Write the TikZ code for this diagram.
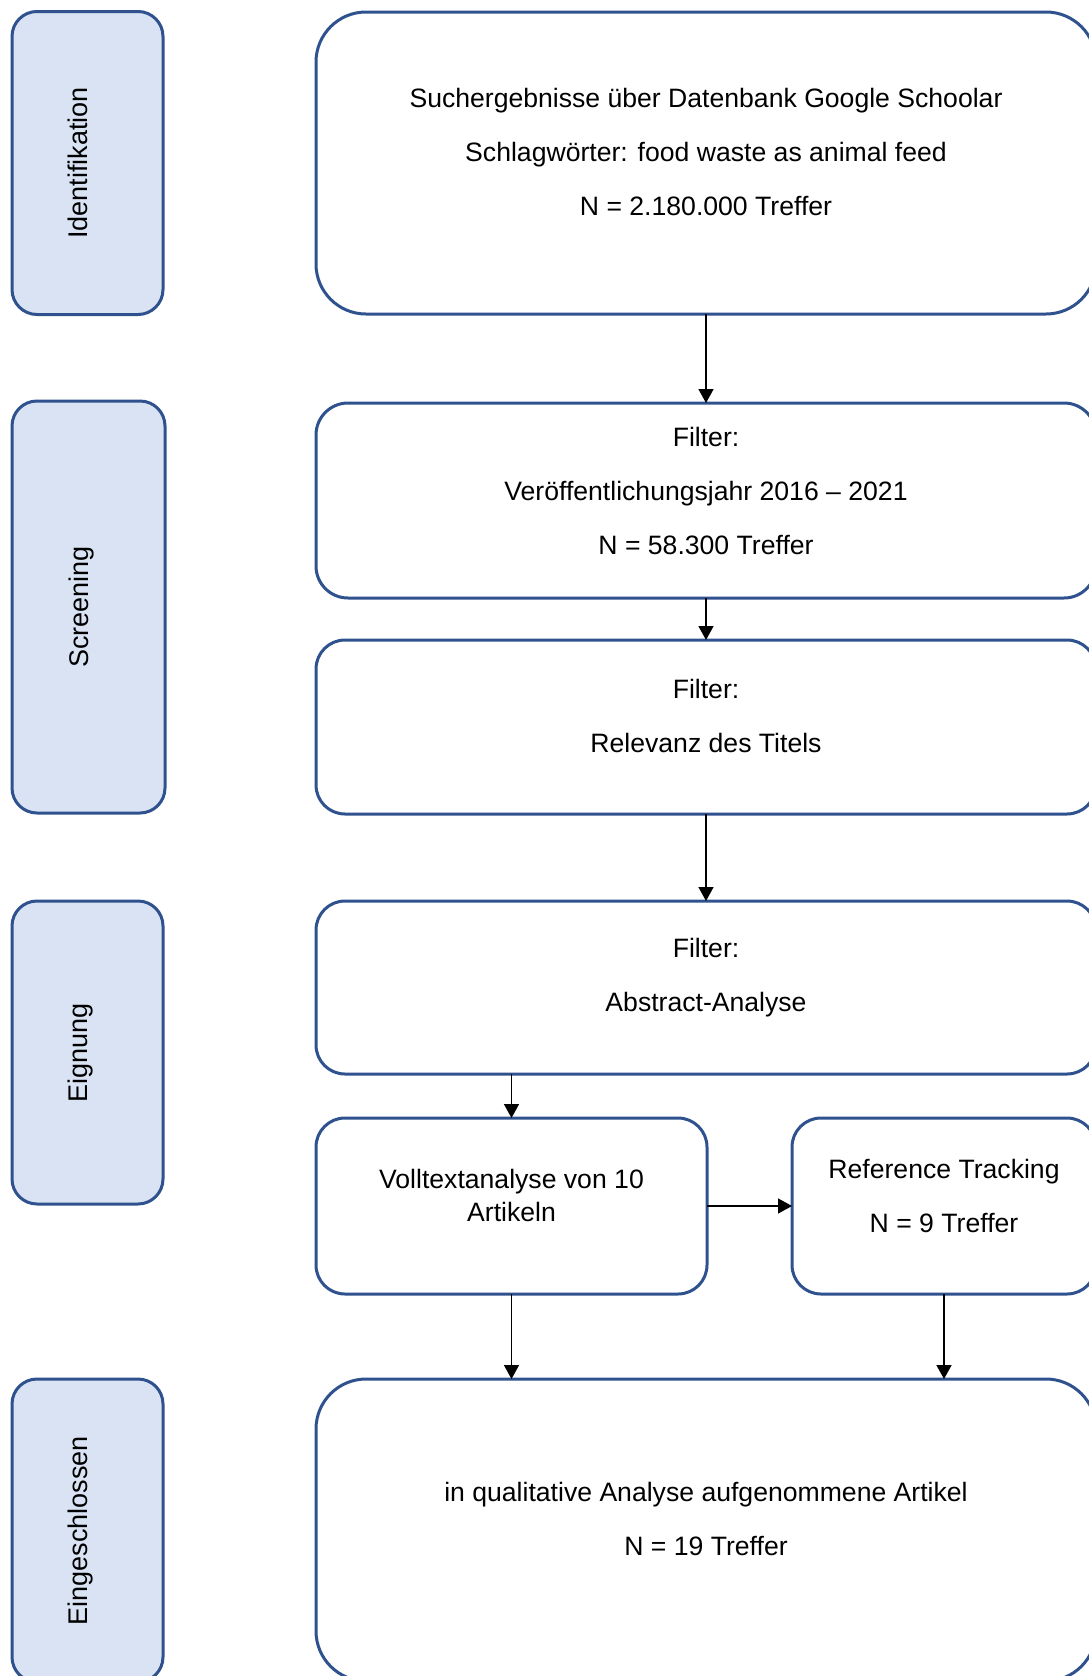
\documentclass[tikz,border=0pt]{standalone}
\usepackage{fontspec}
\setmainfont{Liberation Sans}
\usetikzlibrary{arrows.meta,positioning}
\definecolor{boxblue}{HTML}{2F528F}
\definecolor{phasefill}{HTML}{DAE3F3}

\begin{document}
\begin{tikzpicture}[
  x=1pt, y=-1pt,
  phase/.style={rectangle, draw=boxblue, fill=phasefill, line width=3pt, rounded corners=25pt, rotate=90, minimum width=303pt, minimum height=151pt, inner sep=0pt, outer sep=0pt, text height=19pt, text depth=20pt, font=\fontsize{27}{32}\selectfont},
  stepbox/.style={rectangle, draw=boxblue, fill=white, line width=3pt, inner sep=0pt, outer sep=0pt},
  boxtext/.style={align=center, inner sep=0pt, font=\fontsize{26.6}{31}\selectfont},
  flow/.style={-{Triangle[length=14pt,width=15pt]}, draw=black, line width=1.5pt}
]
  \useasboundingbox (0,0) rectangle (1089,1676);
  \clip (0,0) rectangle (1089,1676);

  % phases on the left
  \node[phase] (identifikation) at (87.5,163) {Identifikation};
  \node[phase, minimum width=412pt, minimum height=153pt] (screening) at (88.5,607) {Screening};
  \node[phase] (eignung) at (87.5,1052.5) {Eignung};
  \node[phase] (eingeschlossen) at (87.5,1530.5) {Eingeschlossen};

  % steps
  \node[stepbox, minimum width=780pt, minimum height=302pt, rounded corners=50pt] (search) at (706,163) {};
  \node[stepbox, minimum width=780pt, minimum height=195pt, rounded corners=32pt] (year) at (706,500.5) {};
  \node[stepbox, minimum width=780pt, minimum height=174pt, rounded corners=29pt] (title) at (706,727) {};
  \node[stepbox, minimum width=780pt, minimum height=173pt, rounded corners=29pt] (abstract) at (706,987.5) {};
  \node[stepbox, minimum width=391pt, minimum height=176pt, rounded corners=29pt] (fulltext) at (511.5,1206) {};
  \node[stepbox, minimum width=304pt, minimum height=176pt, rounded corners=29pt, right=85pt of fulltext] (tracking) {};
  \node[stepbox, minimum width=780pt, minimum height=302pt, rounded corners=50pt] (result) at (706,1530) {};

  \node[boxtext] (search-txt) at ([yshift=11pt]search.center) {Suchergebnisse über Datenbank Google Schoolar\\[23pt]Schlagwörter: food waste as animal feed\\[23pt]N = 2.180.000 Treffer};
  \node[boxtext] (year-txt) at ([yshift=10pt]year.center) {Filter:\\[23pt]Veröffentlichungsjahr 2016 – 2021\\[23pt]N = 58.300 Treffer};
  \node[boxtext] (title-txt) at ([yshift=11pt]title.center) {Filter:\\[23pt]Relevanz des Titels};
  \node[boxtext] (abstract-txt) at ([yshift=10pt]abstract.center) {Filter:\\[23pt]Abstract-Analyse};
  \node[boxtext] (fulltext-txt) at ([yshift=11pt]fulltext.center) {Volltextanalyse von 10\\[2pt]Artikeln};
  \node[boxtext] (tracking-txt) at ([yshift=10pt]tracking.center) {Reference Tracking\\[23pt]N = 9 Treffer};
  \node[boxtext] (result-txt) at ([yshift=11pt]result.center) {in qualitative Analyse aufgenommene Artikel\\[23pt]N = 19 Treffer};

  % connectors
  \draw[flow] (search) -- (year);
  \draw[flow] (year) -- (title);
  \draw[flow] (title) -- (abstract);
  \draw[flow] (abstract.south -| fulltext.north) -- (fulltext.north);
  \draw[flow] (fulltext.east) -- (fulltext.east -| tracking.west);
  \draw[flow] (fulltext.south) -- (fulltext.south |- result.north);
  \draw[flow] (tracking.south) -- (tracking.south |- result.north);
\end{tikzpicture}
\end{document}
